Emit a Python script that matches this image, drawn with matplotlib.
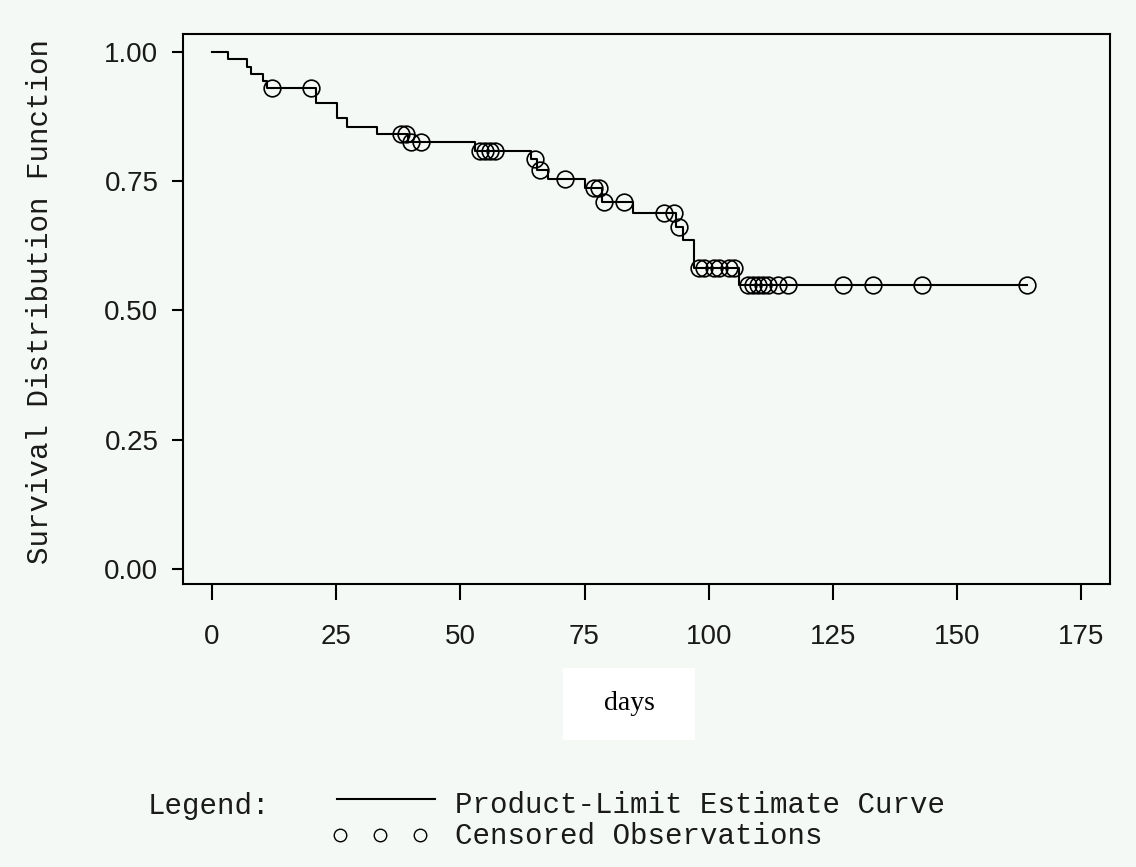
import numpy as np
import matplotlib
matplotlib.use("Agg")
import matplotlib.pyplot as plt
from matplotlib.lines import Line2D
from matplotlib.patches import Rectangle

# ---- data ----
event_days = [0, 3.2, 7.0, 7.9, 10.2, 11.0, 20.9, 25.1, 27.1, 33.2, 39.5, 53.0,
              64.3, 65.5, 67.7, 75.1, 78.5, 84.8, 93.5, 94.9, 97.1, 106.2]
survival = [1.0, 0.986, 0.971, 0.957, 0.943, 0.929, 0.900, 0.871, 0.855, 0.840,
            0.825, 0.808, 0.792, 0.771, 0.753, 0.736, 0.709, 0.688, 0.661, 0.636,
            0.582, 0.548]
censored_days = [12, 20, 38, 39, 40, 42, 54, 55, 56, 57, 65, 66, 71, 77, 78, 79,
                 83, 91, 93, 94, 98, 99, 101, 102, 104, 105, 108, 109, 110, 111,
                 112, 114, 116, 127, 133, 143, 164]
x_ticks = [0, 25, 50, 75, 100, 125, 150, 175]
x_tick_labels = ["0", "25", "50", "75", "100", "125", "150", "175"]
y_ticks = [0.0, 0.25, 0.5, 0.75, 1.0]
y_tick_labels = ["0.00", "0.25", "0.50", "0.75", "1.00"]

BG = "#f5f9f6"
INK = "#1a1a1a"
MONO = ["Liberation Mono", "DejaVu Sans Mono"]
SANS = ["Liberation Sans", "DejaVu Sans"]

W, H = 1136, 867
fig = plt.figure(figsize=(W / 100, H / 100), dpi=100, facecolor=BG)

def fx(px):
    return px / W

def fy(py):
    return 1 - py / H

ax = fig.add_axes([fx(183), fy(584), fx(1110) - fx(183), fy(34) - fy(584)])
ax.set_facecolor(BG)

ev = np.array(event_days)
sv = np.array(survival)
cd = np.array(censored_days, dtype=float)
xs = np.append(ev, cd.max())
ys = np.append(sv, sv[-1])
ax.step(xs, ys, where="post", color="black", lw=1.5)

idx = np.searchsorted(ev, cd, side="right") - 1
cy = sv[idx]
ax.plot(cd, cy, linestyle="none", marker="o", markersize=12,
        markerfacecolor="none", markeredgecolor="black", markeredgewidth=1.2)

ax.set_xlim(-5.84, 180.8)
ax.set_ylim(-0.029, 1.034)
ax.set_xticks(x_ticks)
ax.set_xticklabels(x_tick_labels, family=SANS, fontsize=20, color=INK)
ax.set_yticks(y_ticks)
ax.set_yticklabels(y_tick_labels, family=SANS, fontsize=20, color=INK)
ax.tick_params(axis="x", direction="out", length=11.5, width=1.5, pad=17)
ax.tick_params(axis="y", direction="out", length=7.7, width=1.5, pad=10)
for s in ax.spines.values():
    s.set_linewidth(1.5)
    s.set_color("black")

# y-axis label
fig.text(fx(40), fy(301), "Survival Distribution Function", rotation=90,
         ha="center", va="center", family=MONO, fontsize=21, color=INK)

# x-axis label in its white box
fig.patches.append(Rectangle((fx(563), fy(740)), fx(695) - fx(563), fy(668) - fy(740),
                             transform=fig.transFigure, facecolor="white",
                             edgecolor="none", zorder=0))
fig.text(fx(629), fy(703), "days", ha="center", va="center",
         family=["Liberation Serif", "DejaVu Serif"], fontsize=20, color="black")

# legend block
fig.text(fx(148), fy(806), "Legend:", ha="left", va="center", family=MONO,
         fontsize=21, color=INK)
fig.lines.append(Line2D([fx(337), fx(435)], [fy(799), fy(799)],
                        transform=fig.transFigure, color="black", lw=1.5))
fig.text(fx(455), fy(805), "Product-Limit Estimate Curve", ha="left", va="center",
         family=MONO, fontsize=21, color=INK)
fig.lines.append(Line2D([fx(340), fx(380), fx(420)], [fy(835)] * 3,
                        transform=fig.transFigure, linestyle="none", marker="o",
                        markersize=9, markerfacecolor="none",
                        markeredgecolor="black", markeredgewidth=1.0))
fig.text(fx(455), fy(836), "Censored Observations", ha="left", va="center",
         family=MONO, fontsize=21, color=INK)

fig.savefig("out.png", dpi=100, facecolor=BG)
